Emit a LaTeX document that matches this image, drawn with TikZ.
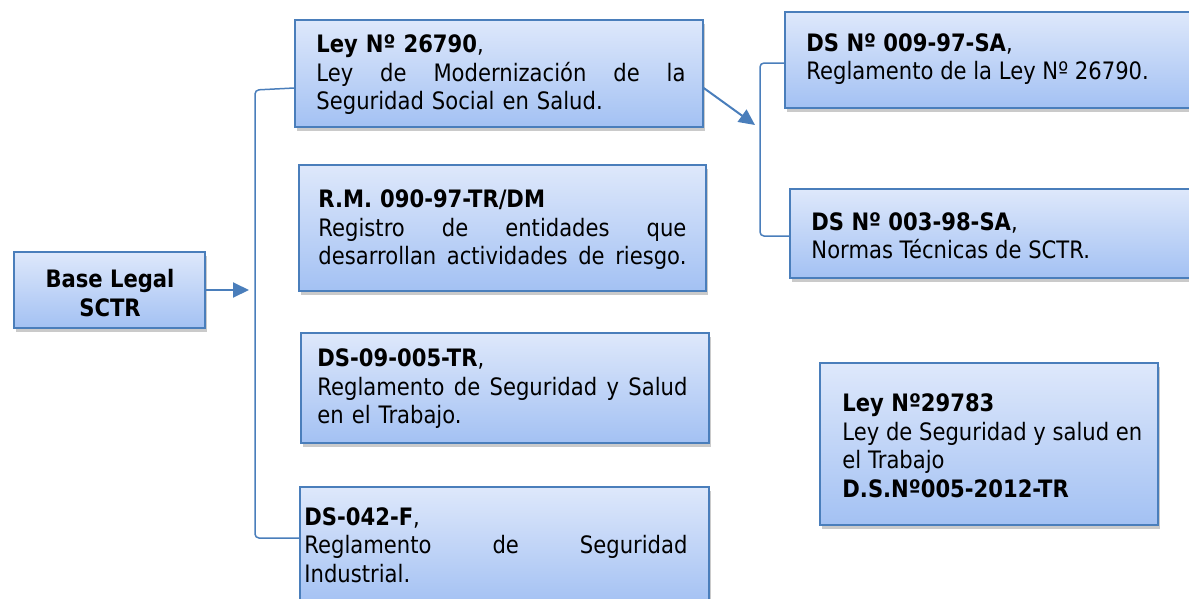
\documentclass[tikz,border=0pt]{standalone}
\usepackage{fontspec}
\setmainfont{DejaVu Sans}[FakeStretch=0.88]
\usetikzlibrary{shadows,arrows.meta,calc}
\definecolor{bordc}{RGB}{74,126,187}
\definecolor{topc}{RGB}{222,232,251}
\definecolor{botc}{RGB}{163,193,243}
\tikzset{
 box/.style={draw=bordc, line width=1.5pt, top color=topc, bottom color=botc,
   drop shadow={shadow xshift=1.5pt, shadow yshift=-4pt, opacity=0.35, fill=black!60}, inner sep=0pt},
 txt/.style={font=\fontsize{24}{28.5}\selectfont, align=left, inner sep=0pt, anchor=west},
 link/.style={draw=bordc, line width=1.5pt, rounded corners=4pt},
 arr/.style={draw=bordc, line width=2pt, -{Triangle[length=16pt,width=15pt]}},
}
\newcommand{\jline}[2]{\leavevmode\hbox to #1{\spaceskip=0.3em plus 1fil\relax #2}}
\begin{document}
\begin{tikzpicture}[x=1pt,y=-1pt]
\useasboundingbox (0,0) rectangle (1189,598);
\clip (0,0) rectangle (1189,598);
% boxes
\node[box, minimum width=191pt, minimum height=76pt] (base) at (109.5,290) {};
\node[box, minimum width=408pt, minimum height=107pt] (ley) at (499,73.5) {};
\node[box, minimum width=407pt, minimum height=126pt] (rm) at (502.5,228) {};
\node[box, minimum width=408pt, minimum height=110pt] (ds09) at (505,388) {};
\node[box, minimum width=409pt, minimum height=118pt] (ds042) at (504.5,546) {};
\node[box, minimum width=407pt, minimum height=96pt] (ds009) at (988.5,60) {};
\node[box, minimum width=407pt, minimum height=89pt] (ds003) at (993.5,233.5) {};
\node[box, minimum width=338pt, minimum height=162pt] (ley2) at (989,444) {};
% texts
\node[txt, align=center, anchor=center, font=\fontsize{24}{28.5}\selectfont\bfseries] (tbase) at (110,293) {Base Legal\\SCTR};
\node[txt, text width=369pt] (tley) at ($(ley.west)+(22,1.5)$) {\textbf{Ley Nº 26790},\\\jline{369pt}{Ley de Modernización de la}\\Seguridad Social en Salud.};
\node[txt, text width=368pt] (trm) at ($(rm.west)+(20,2)$) {\textbf{R.M. 090-97-TR/DM}\\\jline{368pt}{Registro de entidades que}\\\jline{368pt}{desarrollan actividades de riesgo.}};
\node[txt, text width=370pt] (tds09) at ($(ds09.west)+(17,1)$) {\textbf{DS-09-005-TR},\\\jline{370pt}{Reglamento de Seguridad y Salud}\\en el Trabajo.};
\node[txt, text width=383pt] (tds042) at ($(ds042.west)+(5,-1)$) {\textbf{DS-042-F},\\\jline{383pt}{Reglamento de Seguridad}\\Industrial.};
\node[txt] (tds009) at ($(ds009.west)+(22,-1)$) {\textbf{DS Nº 009-97-SA},\\Reglamento de la Ley Nº 26790.};
\node[txt] (tds003) at ($(ds003.west)+(22,2.5)$) {\textbf{DS Nº 003-98-SA},\\Normas Técnicas de SCTR.};
\node[txt] (tley2) at ($(ley2.west)+(23,2)$) {\textbf{Ley Nº29783}\\Ley de Seguridad y salud en\\el Trabajo\\\textbf{D.S.Nº005-2012-TR}};
% connectors
\coordinate (a1) at (249,290);
\draw[arr] (base.east) -- (a1);
\coordinate (br1t) at (255,90);
\coordinate (br1b) at (255,538);
\draw[link] ($(ley.west)+(0,14.5)$) -- (br1t) -- (br1b) -- ($(ds042.west)+(0,-8)$);
\coordinate (a2) at (755,125);
\draw[arr] ($(ley.east)+(0,14.5)$) -- (a2);
\coordinate (br2t) at (760,63);
\coordinate (br2b) at (760,236);
\draw[link] ($(ds009.west)+(0,3)$) -- (br2t) -- (br2b) -- ($(ds003.west)+(0,2.5)$);
\end{tikzpicture}
\end{document}
